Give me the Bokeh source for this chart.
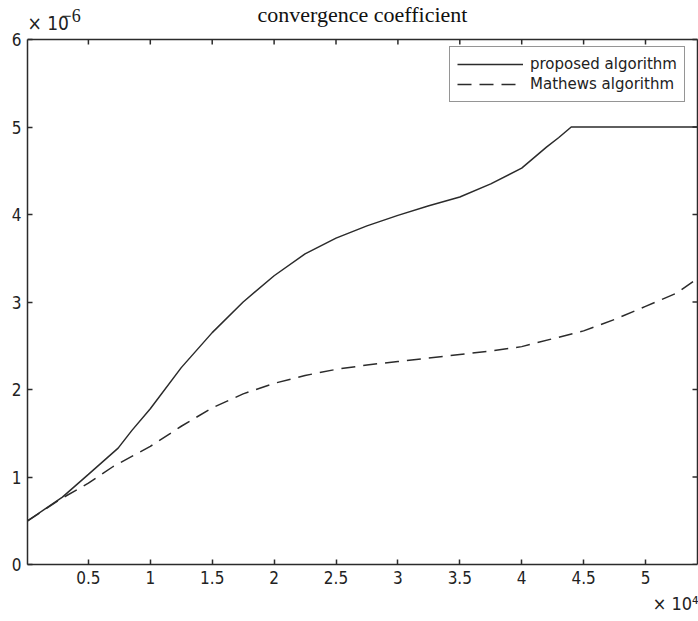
from bokeh.plotting import figure
from bokeh.models import Range1d, LinearAxis, FixedTicker, Label, Legend, LegendItem, Title
from bokeh.embed import file_html
from bokeh.resources import INLINE

# iteration index, in units of 10^4
iters_proposed = [0.01, 0.29, 0.5, 0.74, 0.85, 1.0, 1.25, 1.5, 1.75, 2.0, 2.25, 2.5, 2.75,
                  3.0, 3.25, 3.5, 3.75, 4.0, 4.2, 4.3, 4.4, 4.8, 5.42]
# convergence coefficient, in units of 10^-6
proposed = [0.5, 0.77, 1.03, 1.33, 1.53, 1.78, 2.25, 2.65, 3.0, 3.3, 3.55, 3.73, 3.87,
            3.99, 4.1, 4.2, 4.35, 4.53, 4.77, 4.88, 5.0, 5.0, 5.0]

iters_mathews = [0.01, 0.29, 0.5, 0.7, 1.0, 1.25, 1.5, 1.75, 2.0, 2.25, 2.5, 2.75, 3.0,
                 3.25, 3.5, 3.75, 4.0, 4.25, 4.5, 4.75, 5.0, 5.25, 5.42]
mathews = [0.5, 0.76, 0.93, 1.12, 1.35, 1.58, 1.79, 1.95, 2.07, 2.16, 2.23, 2.28, 2.32,
           2.36, 2.4, 2.44, 2.49, 2.58, 2.67, 2.8, 2.95, 3.1, 3.27]

x_ticks = [0.5, 1, 1.5, 2, 2.5, 3, 3.5, 4, 4.5, 5]
y_ticks = [0, 1, 2, 3, 4, 5, 6]

# axes box limits (data units)
X0, X1 = 0.008, 5.42
Y0, Y1 = 0.0, 6.0

W, H = 698, 621
LEFT, BOTTOM = 27, 57           # borders holding the tick labels
BOX_TOP_PX, BOX_RIGHT_PX = 39, 697
PX_PER_X = (BOX_RIGHT_PX - LEFT) / (X1 - X0)
PX_PER_Y = (H - BOTTOM - BOX_TOP_PX) / (Y1 - Y0)

# the plotting frame reaches the top and right edges of the canvas, so that the
# title and exponent texts can sit inside it above the axes box
x_end = X1 + (W - BOX_RIGHT_PX) / PX_PER_X
y_end = Y1 + BOX_TOP_PX / PX_PER_Y

TICK_FONT = "'DejaVu Sans Condensed', 'Liberation Sans Narrow', sans-serif"
INK = "#2b2b2b"
TICK_LEN = 5


def px_to_x(px):
    return X0 + (px - LEFT) / PX_PER_X


def py_to_y(py):
    return Y1 - (py - BOX_TOP_PX) / PX_PER_Y


p = figure(width=W, height=H, output_backend="svg", toolbar_location=None,
           x_range=Range1d(X0, x_end), y_range=Range1d(Y0, y_end),
           min_border_left=LEFT, min_border_right=0,
           min_border_top=0, min_border_bottom=BOTTOM,
           x_axis_location=None, y_axis_location=None)
p.outline_line_color = None
p.xgrid.visible = False
p.ygrid.visible = False
p.background_fill_color = "white"
p.border_fill_color = "white"


def style_axis(ax):
    ax.axis_line_color = INK
    ax.axis_line_width = 1.5
    ax.major_tick_line_color = INK
    ax.major_tick_line_width = 1.5
    ax.major_tick_in = TICK_LEN
    ax.major_tick_out = 0
    ax.minor_tick_line_color = None
    ax.major_label_text_font = TICK_FONT
    ax.major_label_text_font_size = "17px"
    ax.major_label_text_color = "#222222"
    ax.major_label_standoff = 6


bottom = LinearAxis(ticker=FixedTicker(ticks=x_ticks), bounds=(X0, X1))
left = LinearAxis(ticker=FixedTicker(ticks=y_ticks), bounds=(Y0, Y1))
style_axis(bottom)
style_axis(left)
p.add_layout(bottom, "below")
p.add_layout(left, "left")

# top and right sides of the axes box, with inward ticks
p.line(x=[X0, X1], y=[Y1, Y1], line_color=INK, line_width=1.5)
p.line(x=[X1, X1], y=[Y0, Y1], line_color=INK, line_width=1.5)
p.segment(x0=x_ticks, y0=[Y1] * len(x_ticks),
          x1=x_ticks, y1=[Y1 - TICK_LEN / PX_PER_Y] * len(x_ticks),
          line_color=INK, line_width=1.5)
p.segment(x0=[X1] * len(y_ticks), y0=y_ticks,
          x1=[X1 - TICK_LEN / PX_PER_X] * len(y_ticks), y1=y_ticks,
          line_color=INK, line_width=1.5)

r1 = p.line(iters_proposed, proposed, line_color=INK, line_width=1.5)
r2 = p.line(iters_mathews, mathews, line_color=INK, line_width=1.5, line_dash="14 8")

legend = Legend(items=[LegendItem(label="proposed algorithm", renderers=[r1]),
                       LegendItem(label="Mathews algorithm", renderers=[r2])],
                location=(449 - LEFT, (H - BOTTOM) - 102))
legend.margin = 0
legend.padding = 7
legend.spacing = 0
legend.glyph_width = 66
legend.glyph_height = 20
legend.label_height = 20
legend.label_standoff = 7
legend.label_text_font = "'DejaVu Sans', 'Noto Sans', sans-serif"
legend.label_text_font_size = "15px"
legend.label_text_color = "#222222"
legend.border_line_color = INK
legend.border_line_width = 1.5
legend.background_fill_color = "white"
legend.background_fill_alpha = 1.0
p.add_layout(legend)

# title and the y exponent above the box
p.add_layout(Label(x=px_to_x(362), y=py_to_y(14), text="convergence coefficient",
                   text_align="center", text_baseline="middle",
                   text_font="'Liberation Serif', 'Times New Roman', serif",
                   text_font_size="22px", text_color="#111111"))
p.add_layout(Label(x=px_to_x(27), y=py_to_y(22), text="× 10",
                   text_align="left", text_baseline="middle",
                   text_font=TICK_FONT, text_font_size="19px", text_color="#222222"))
p.add_layout(Label(x=px_to_x(61), y=py_to_y(15), text="−6",
                   text_align="left", text_baseline="middle",
                   text_font="'Liberation Serif', serif", text_font_size="18px",
                   text_color="#222222"))

# x exponent under the bottom axis, at the right
p.add_layout(Title(text="× 10⁴", align="right", text_font=TICK_FONT,
                   text_font_size="18px", text_font_style="normal",
                   text_color="#222222", standoff=9), "below")

open("out.html", "w").write(file_html(p, INLINE))
